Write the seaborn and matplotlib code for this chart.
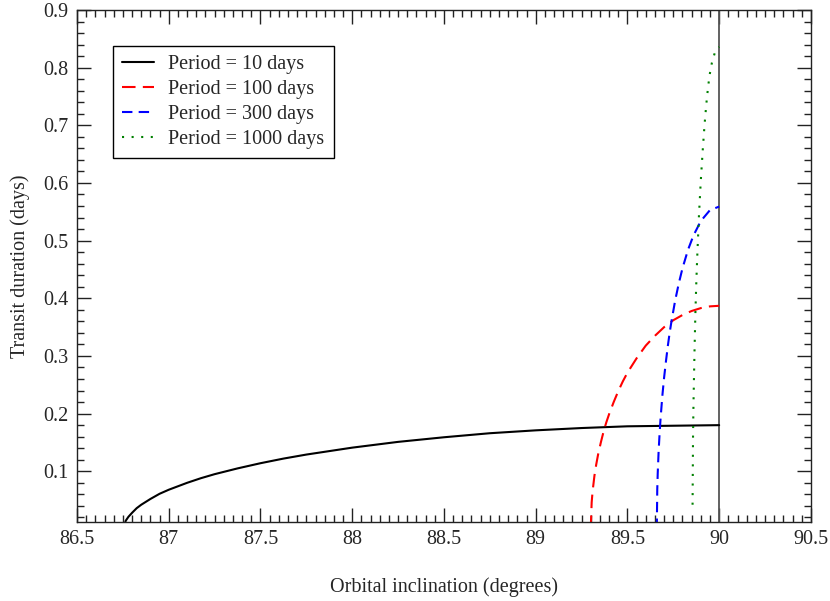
import numpy as np
import pandas as pd
import seaborn as sns
import matplotlib
matplotlib.use("Agg")
import matplotlib.pyplot as plt
from matplotlib.ticker import MultipleLocator, FuncFormatter

# values
incl_10 = [86.755, 86.765, 86.78, 86.80, 86.825, 86.85, 86.875, 86.90, 86.95, 87.00,
           87.05, 87.10, 87.175, 87.25, 87.375, 87.50, 87.625, 87.75, 87.875,
           88.00, 88.25, 88.50, 88.75, 89.00, 89.25, 89.50, 89.75, 90.00]
dur_10 = [0.000, 0.014, 0.021, 0.028, 0.036, 0.042, 0.047, 0.052, 0.061, 0.068,
          0.074, 0.080, 0.088, 0.095, 0.105, 0.114, 0.122, 0.129, 0.135,
          0.141, 0.151, 0.159, 0.166, 0.171, 0.175, 0.178, 0.179, 0.180]

incl_100 = [89.30, 89.305, 89.31, 89.32, 89.33, 89.34, 89.355, 89.37, 89.385, 89.40,
            89.425, 89.45, 89.475, 89.50, 89.55, 89.60, 89.65, 89.70, 89.75,
            89.80, 89.85, 89.90, 89.95, 90.00]
dur_100 = [0.000, 0.046, 0.065, 0.092, 0.112, 0.129, 0.150, 0.169, 0.185, 0.199,
           0.220, 0.239, 0.256, 0.271, 0.296, 0.318, 0.335, 0.350, 0.362,
           0.371, 0.378, 0.383, 0.386, 0.387]

incl_300 = [89.660, 89.6625, 89.665, 89.67, 89.675, 89.68, 89.69, 89.70, 89.71, 89.72,
            89.73, 89.74, 89.76, 89.78, 89.80, 89.83, 89.86, 89.90, 89.95, 90.00]
dur_300 = [0.000, 0.068, 0.096, 0.135, 0.164, 0.189, 0.230, 0.263, 0.291, 0.317,
           0.340, 0.360, 0.396, 0.426, 0.452, 0.484, 0.509, 0.534, 0.553, 0.559]

incl_1000 = [89.855, 89.8575, 89.86, 89.865, 89.87, 89.875, 89.88, 89.89, 89.90, 89.91,
             89.92, 89.93, 89.94, 89.95, 89.96, 89.98, 90.00]
dur_1000 = [0.042, 0.160, 0.218, 0.300, 0.370, 0.424, 0.469, 0.545, 0.605, 0.655,
            0.700, 0.737, 0.768, 0.791, 0.808, 0.830, 0.836]

labels = ["Period = 10 days", "Period = 100 days", "Period = 300 days", "Period = 1000 days"]
colors = ["black", "#ff0000", "#0000ff", "#008000"]
styles = ["-", (0, (6.5, 3.5)), (0, (5, 3)), (0, (1, 3.6))]

sns.set_style("ticks")
plt.rcParams["font.family"] = ["Liberation Serif", "DejaVu Serif"]

fig = plt.figure(figsize=(8.3, 6.01), dpi=100)
ax = fig.add_axes([0.0928, 0.1314, 0.8842, 0.852])

series = [(incl_10, dur_10), (incl_100, dur_100), (incl_300, dur_300), (incl_1000, dur_1000)]
for (x, y), lab, col, ls in zip(series, labels, colors, styles):
    sns.lineplot(x=x, y=y, ax=ax, color=col, linestyle=ls, linewidth=1.5, label=lab,
                 sort=False, estimator=None)

ax.axvline(90, color="#555555", linewidth=1.3, zorder=1)

ax.set_xlim(86.5, 90.5)
ax.set_ylim(0.012, 0.9)
ax.xaxis.set_major_locator(MultipleLocator(0.5))
ax.xaxis.set_minor_locator(MultipleLocator(0.05))
ax.yaxis.set_major_locator(MultipleLocator(0.1))
ax.yaxis.set_minor_locator(MultipleLocator(0.02))
fmt = FuncFormatter(lambda v, p: "%g" % round(v, 3))
ax.xaxis.set_major_formatter(fmt)
ax.yaxis.set_major_formatter(fmt)
ax.set_yticks([0.1, 0.2, 0.3, 0.4, 0.5, 0.6, 0.7, 0.8, 0.9])

ax.tick_params(which="both", direction="in", top=True, right=True, labelsize=14.5,
               color="#222222")
ax.tick_params(which="major", length=10, width=1.0, pad=6)
ax.tick_params(which="minor", length=5, width=1.0)
for sp in ax.spines.values():
    sp.set_linewidth(1.0)
    sp.set_color("#222222")

ax.set_xlabel("Orbital inclination (degrees)", fontsize=14.5, labelpad=20)
ax.set_ylabel("Transit duration (days)", fontsize=14.5, labelpad=10)

leg = ax.legend(loc="upper left", bbox_to_anchor=(0.049, 0.930), borderaxespad=0,
                fontsize=14.5, frameon=True, fancybox=False, edgecolor="black",
                framealpha=1, handlelength=1.6, handletextpad=0.7, labelspacing=0.3,
                borderpad=0.45)
leg.get_frame().set_linewidth(1.0)

plt.savefig("out.png", dpi=100)
